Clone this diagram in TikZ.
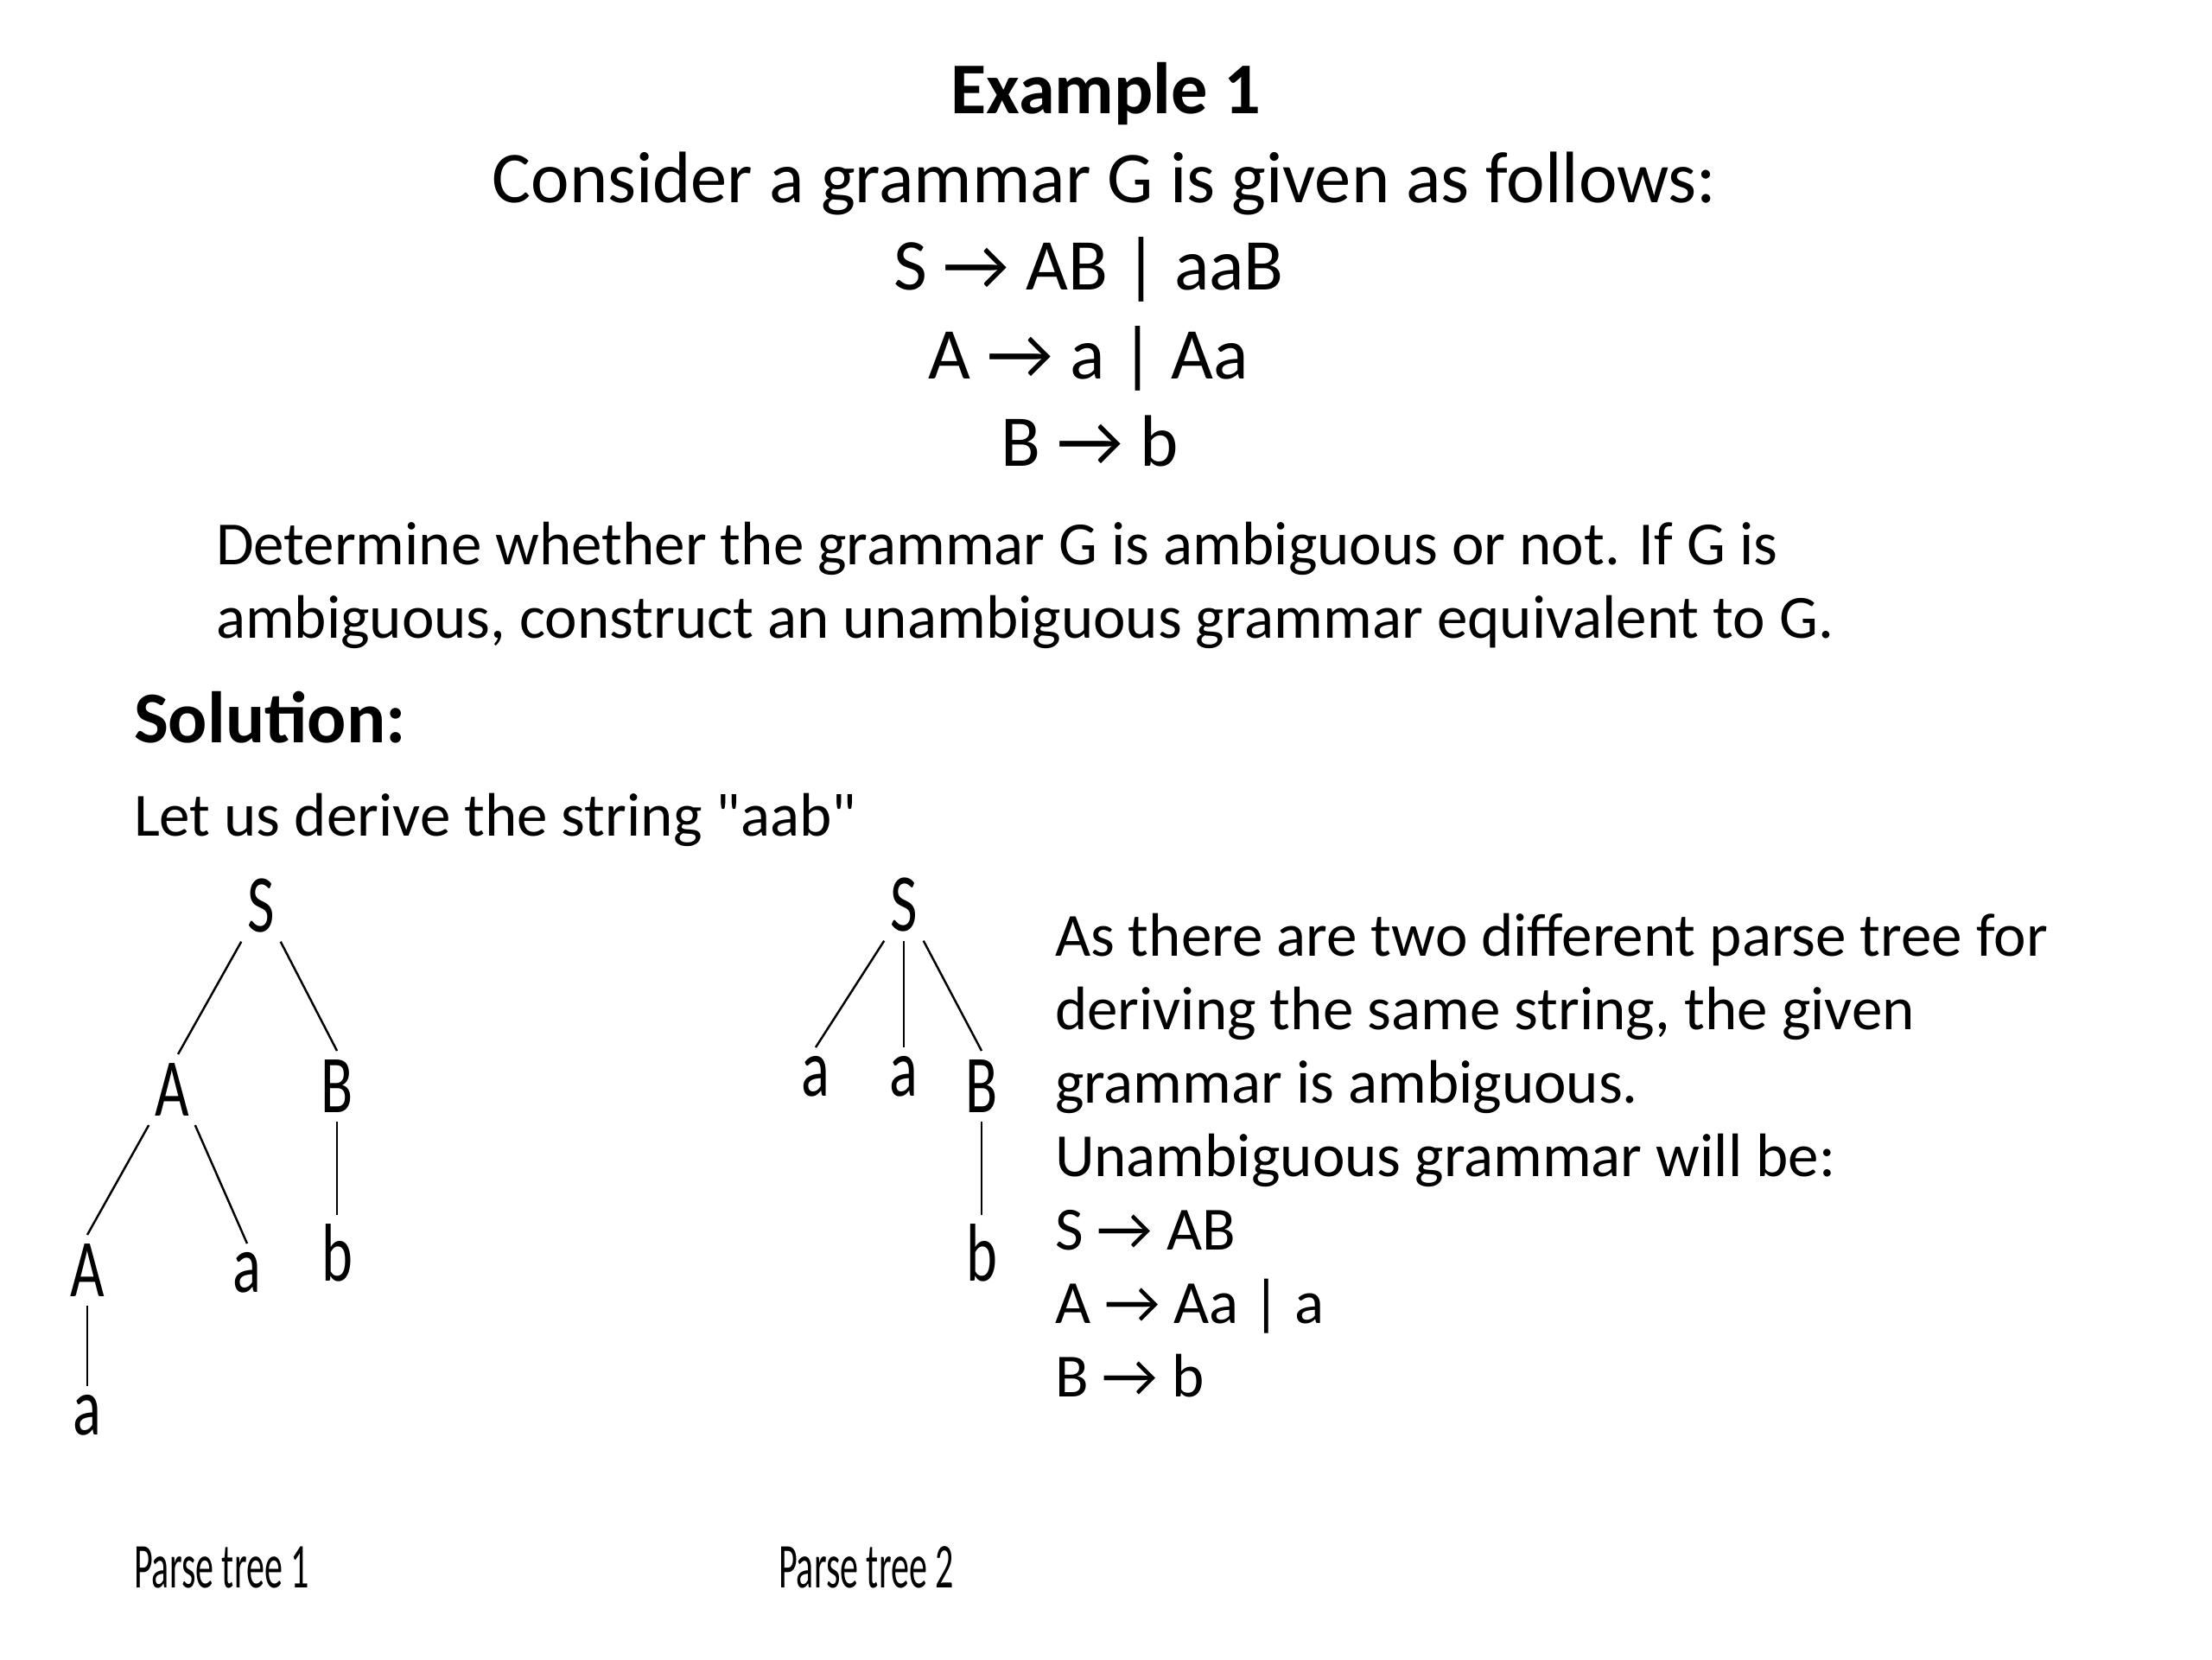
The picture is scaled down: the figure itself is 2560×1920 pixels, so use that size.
\documentclass[tikz,border=0pt]{standalone}
\usepackage{fontspec}
\setmainfont{Carlito}
\newfontfamily\treefont[FakeStretch=0.72]{Carlito}
\newfontfamily\lblfont[FakeStretch=0.57]{Carlito}
\usetikzlibrary{positioning}

\begin{document}
\begin{tikzpicture}[
  x=0.01cm, y=-0.01cm,
  every node/.style={inner sep=0pt, outer sep=0pt},
  head/.style={font=\fontsize{24}{29}\selectfont\bfseries, anchor=base},
  big/.style={font=\fontsize{24}{29}\selectfont, anchor=base},
  txt/.style={font=\fontsize{20.2}{24}\selectfont, anchor=base west},
  sym/.style={font=\treefont\fontsize{27}{30}\selectfont, inner xsep=2pt, inner ysep=3pt},
  treelbl/.style={font=\lblfont\fontsize{21}{24}\selectfont, anchor=base west},
  link/.style={line width=0.7pt},
]
  \useasboundingbox (0,0) rectangle (2560,1920);

  \node[head] (title) at (1280,131) {Example 1};
  \node[big] (intro) at (1278,234) {Consider a grammar G is given as follows:};
  \node[big] (r1) at (1260,335) {S → AB | aaB};
  \node[big] (r2) at (1260,438) {A → a | Aa};
  \node[big] (r3) at (1261,539) {B → b};

  \node[txt] (q1) at (250,653) {Determine whether the grammar G is ambiguous or not. If G is};
  \node[txt] (q2) at (250,738) {ambiguous, construct an unambiguous grammar equivalent to G.};

  \node[head, anchor=base west] (sol) at (155,859) {Solution:};
  \node[txt] (derive) at (155,967) {Let us derive the string \textquotedbl aab\textquotedbl};

  % parse tree 1
  \node[sym] (S1) at (302,1048) {S};
  \node[sym] (A1) at (199,1261) {A};
  \node[sym] (B1) at (390,1257) {B};
  \node[sym] (A11) at (101,1470) {A};
  \node[sym] (a11) at (286,1473) {a};
  \node[sym] (b1) at (390,1450) {b};
  \node[sym] (a12) at (101,1638) {a};
  \draw[link] (S1.south west) -- ([xshift=2pt]A1.north);
  \draw[link] (S1.south east) -- (B1.north);
  \draw[link] (A1.south west) -- (A11.north);
  \draw[link] (A1.south east) -- (a11.north);
  \draw[link] (B1) -- (b1);
  \draw[link] (A11) -- (a12);

  % parse tree 2
  \node[sym] (S2) at (1046,1047) {S};
  \node[sym] (a21) at (944,1246) {a};
  \node[sym] (a22) at (1046,1246) {a};
  \node[sym] (B2) at (1136,1257) {B};
  \node[sym] (b2) at (1136,1450) {b};
  \draw[link] (S2.south west) -- (a21.north);
  \draw[link] (S2) -- (a22);
  \draw[link] (S2.south east) -- (B2.north);
  \draw[link] (B2) -- (b2);

  \foreach \t [count=\i from 0] in {%
      As there are two different parse tree for,
      {deriving the same string, the given},
      grammar is ambiguous.,
      Unambiguous grammar will be:,
      S → AB,
      A → Aa | a,
      B → b}
    \node[txt] (ans\i) at (1221,1106+85*\i) {\t};

  \node[treelbl] (lbl1) at (155,1837) {Parse tree 1};
  \node[treelbl] (lbl2) at (901,1837) {Parse tree 2};
\end{tikzpicture}
\end{document}
